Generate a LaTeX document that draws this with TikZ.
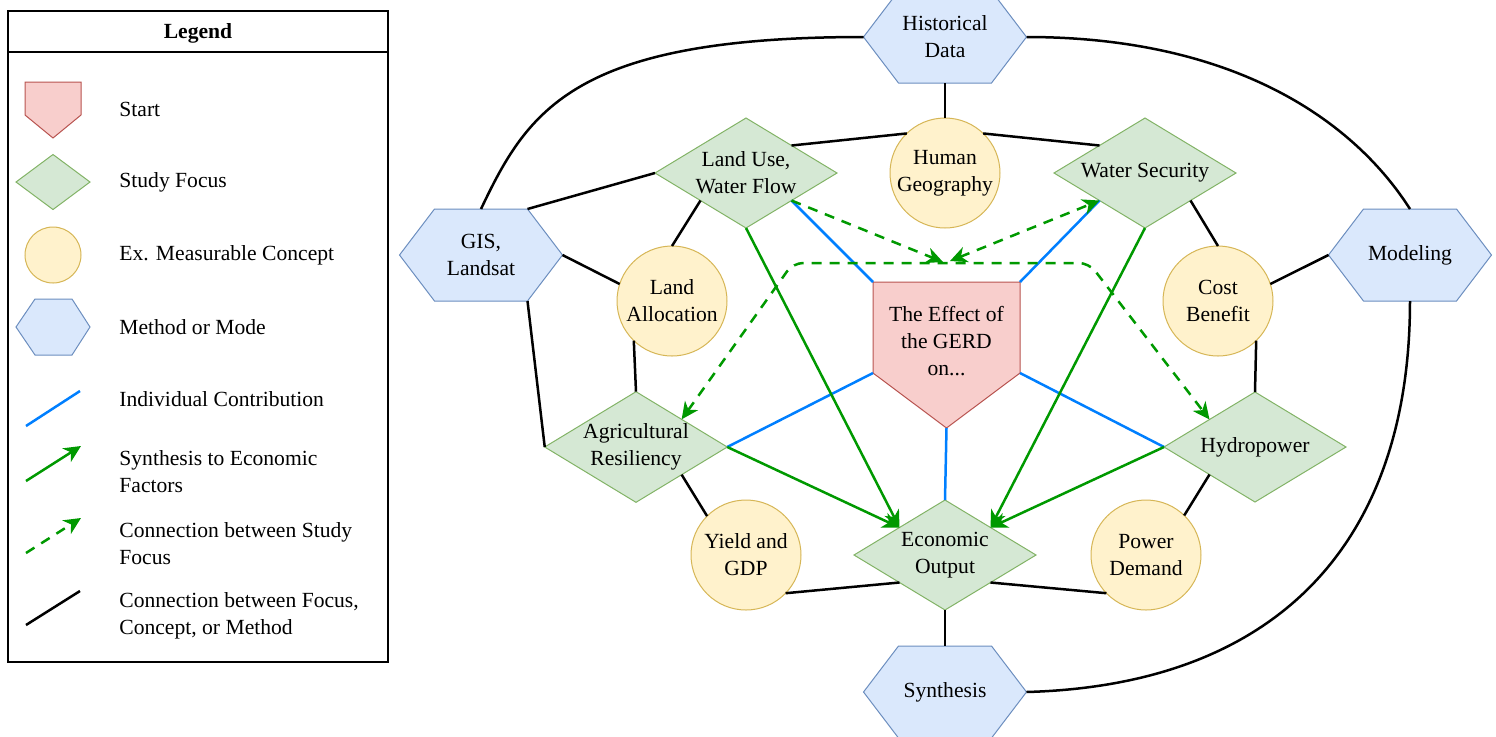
\documentclass[tikz,border=0pt]{standalone}
\usepackage{fontspec}
\setmainfont{Liberation Serif}
\usetikzlibrary{shapes.geometric,arrows.meta}
\pgfdeclarelayer{background}
\pgfsetlayers{background,main}
\definecolor{focusfill}{HTML}{D5E8D4}
\definecolor{focusline}{HTML}{82B366}
\definecolor{conceptfill}{HTML}{FFF2CC}
\definecolor{conceptline}{HTML}{D6B656}
\definecolor{methodfill}{HTML}{DAE8FC}
\definecolor{methodline}{HTML}{6C8EBF}
\definecolor{startfill}{HTML}{F8CECC}
\definecolor{startline}{HTML}{B85450}
\definecolor{contribblue}{HTML}{007FFF}
\definecolor{synthgreen}{HTML}{009900}
\newcommand\dfont{\fontsize{10.8}{13.5}\selectfont}
\tikzset{
  >={Stealth[length=8.5pt,width=8pt,inset=2.6pt]},
  basetext/.style={font=\dfont, align=center, inner sep=0pt, outer sep=0pt},
  focus/.style={basetext, diamond, aspect=1.65, draw=focusline, fill=focusfill, line width=0.5pt, minimum width=91pt, minimum height=55pt},
  concept/.style={basetext, circle, draw=conceptline, fill=conceptfill, line width=0.5pt, minimum size=55pt},
  method/.style={basetext, rectangle, minimum width=81.5pt, minimum height=46pt},
  hexshape/.style={draw=methodline, fill=methodfill, line width=0.5pt},
  hexof/.style={insert path={(#1.west) -- ([xshift=17.5pt]#1.north west) -- ([xshift=-17.5pt]#1.north east) -- (#1.east) -- ([xshift=-17.5pt]#1.south east) -- ([xshift=17.5pt]#1.south west) -- cycle}},
  startshape/.style={draw=startline, fill=startfill, line width=0.5pt},
  conn/.style={line width=1.25pt, black},
  contrib/.style={line width=1.25pt, contribblue},
  synth/.style={line width=1.25pt, synthgreen, ->},
  studylink/.style={line width=1.25pt, synthgreen, dash pattern=on 5pt off 4pt},
  legtext/.style={font=\dfont, anchor=west, align=left, inner sep=0pt},
  legframe/.style={draw, line width=0.6pt, minimum width=190pt, minimum height=325.5pt, anchor=north west, inner sep=0pt, outer sep=0pt},
}
\begin{document}
\begin{tikzpicture}[x=0.5pt,y=-0.5pt]
\useasboundingbox (0,0) rectangle (1496,736);

% ---------------- Legend ----------------
\node[legframe] (legbox) at (8,11) {};
\node[font=\dfont\bfseries, inner sep=0pt] (legtitle) at (198,33) {Legend};
\coordinate (sepL) at (8,52);
\coordinate (sepR) at (388,52);
\draw[line width=0.6pt] (sepL) -- (sepR);

\path[startshape] (25,82) -- (81,82) -- (81,115) -- (53,138) -- (25,115) -- cycle;
\node[focus, minimum width=37pt, minimum height=27.5pt] (legfocus) at (53,182) {};
\node[concept, minimum size=28pt] (legconcept) at (53,255) {};
\path[hexshape] (16,327) -- (35,299) -- (72,299) -- (90,327) -- (72,355) -- (35,355) -- cycle;

\coordinate (lb1) at (26,426); \coordinate (lb2) at (80,391);
\draw[contrib] (lb1) -- (lb2);
\coordinate (lg1) at (26,481); \coordinate (lg2) at (81,446);
\draw[synth] (lg1) -- (lg2);
\coordinate (ld1) at (26,553); \coordinate (ld2) at (81,518);
\draw[studylink, ->] (ld1) -- (ld2);
\coordinate (lk1) at (26,625); \coordinate (lk2) at (80,591);
\draw[conn] (lk1) -- (lk2);

\node[legtext] (lt1) at (119,109) {Start};
\node[legtext] (lt2) at (119,182) {Study Focus};
\node[legtext] (lt3) at (119,255) {Ex. Measurable Concept};
\node[legtext] (lt4) at (119,327) {Method or Mode};
\node[legtext] (lt5) at (119,399) {Individual Contribution};
\node[legtext] (lt6) at (119,472) {Synthesis to Economic\\Factors};
\node[legtext] (lt7) at (119,544) {Connection between Study\\Focus};
\node[legtext] (lt8) at (119,616) {Connection between Focus,\\Concept, or Method};

% ---------------- Main nodes ----------------
\node[method] (hd)  at (945,37)   {Historical\\Data};
\node[method] (gis) at (481,255)  {GIS,\\Landsat};
\node[method] (mod) at (1410,255) {Modeling};
\node[method] (syn) at (945,692)  {Synthesis};

\node[concept] (hg) at (945,173)  {Human\\Geography};
\node[concept] (la) at (672,301)  {Land\\Allocation};
\node[concept] (cb) at (1218,301) {Cost\\Benefit};
\node[concept] (yg) at (746,555)  {Yield and\\GDP};
\node[concept] (pd) at (1146,555) {Power\\Demand};

\node[focus] (lu) at (746,173)  {Land Use,\\Water Flow};
\node[focus] (ws) at (1145,173) {Water Security};
\node[focus] (ag) at (636,447)  {Agricultural\\Resiliency};
\node[focus] (hy) at (1255,447) {Hydropower};
\node[focus] (eo) at (945,555)  {Economic\\Output};

\coordinate (gerdTL) at (873,282);
\coordinate (gerdTR) at (1020,282);
\coordinate (gerdL)  at (873,373);
\coordinate (gerdR)  at (1020,373);
\coordinate (gerdB)  at (946.5,428);
\node[basetext] (gerd) at (946.5,341) {The Effect of\\the GERD\\on...};

\begin{pgfonlayer}{background}
  \path[hexshape, hexof=hd];
  \path[hexshape, hexof=gis];
  \path[hexshape, hexof=mod];
  \path[hexshape, hexof=syn];
  \path[startshape] (gerdTL) -- (gerdTR) -- (gerdR) -- (gerdB) -- (gerdL) -- cycle;
\end{pgfonlayer}

% ---------------- Black connectors ----------------
\draw[conn] (hd.south) -- (hg.north);
\draw[conn] (lu.north east) -- (hg.134);
\draw[conn] (hg.46) -- (ws.north west);
\draw[conn] (hd.west) .. controls (574,37) and (528,110) .. (gis.north);
\draw[conn] (hd.east) .. controls (1227,37) and (1350,115) .. (mod.north);
\draw[conn] (syn.east) .. controls (1280,685) and (1410,540) .. (mod.south);
\draw[conn] ([xshift=-17.5pt]gis.north east) -- (lu.west);
\draw[conn] (gis.east) -- (la.162);
\draw[conn] ([xshift=-17.5pt]gis.south east) -- (ag.west);
\draw[conn] (lu.south west) -- (la.north);
\draw[conn] (la.226) -- (ag.north);
\draw[conn] (ag.south east) -- (yg.135);
\draw[conn] (yg.-44) -- (eo.south west);
\draw[conn] (eo.south east) -- (pd.224);
\draw[conn] (eo.south) -- (syn.north);
\draw[conn] (pd.46) -- (hy.south west);
\draw[conn] (hy.north) -- (cb.-46);
\draw[conn] (ws.south east) -- (cb.north);
\draw[conn] (cb.18) -- (mod.west);

% ---------------- Individual contributions ----------------
\draw[contrib] (gerdTL) -- (lu.south east);
\draw[contrib] (gerdTR) -- (ws.south west);
\draw[contrib] (gerdL) -- (ag.east);
\draw[contrib] (gerdR) -- (hy.west);
\draw[contrib] (gerdB) -- (eo.north);

% ---------------- Synthesis arrows ----------------
\draw[synth] (lu.south) -- (eo.north west);
\draw[synth] (ag.east) -- (eo.north west);
\draw[synth] (ws.south) -- (eo.north east);
\draw[synth] (hy.west) -- (eo.north east);

% ---------------- Study focus connections ----------------
\coordinate (dashL) at (793,263);
\coordinate (dashR) at (1089,263);
\coordinate (midL) at (943,262);
\coordinate (midR) at (950,261);
\draw[studylink, <->, rounded corners=5pt] (ag.north east) -- (dashL) -- (dashR) -- (hy.north west);
\draw[studylink, ->] (lu.south east) -- (midL);
\draw[studylink, <->] (midR) -- (ws.south west);
\end{tikzpicture}
\end{document}
